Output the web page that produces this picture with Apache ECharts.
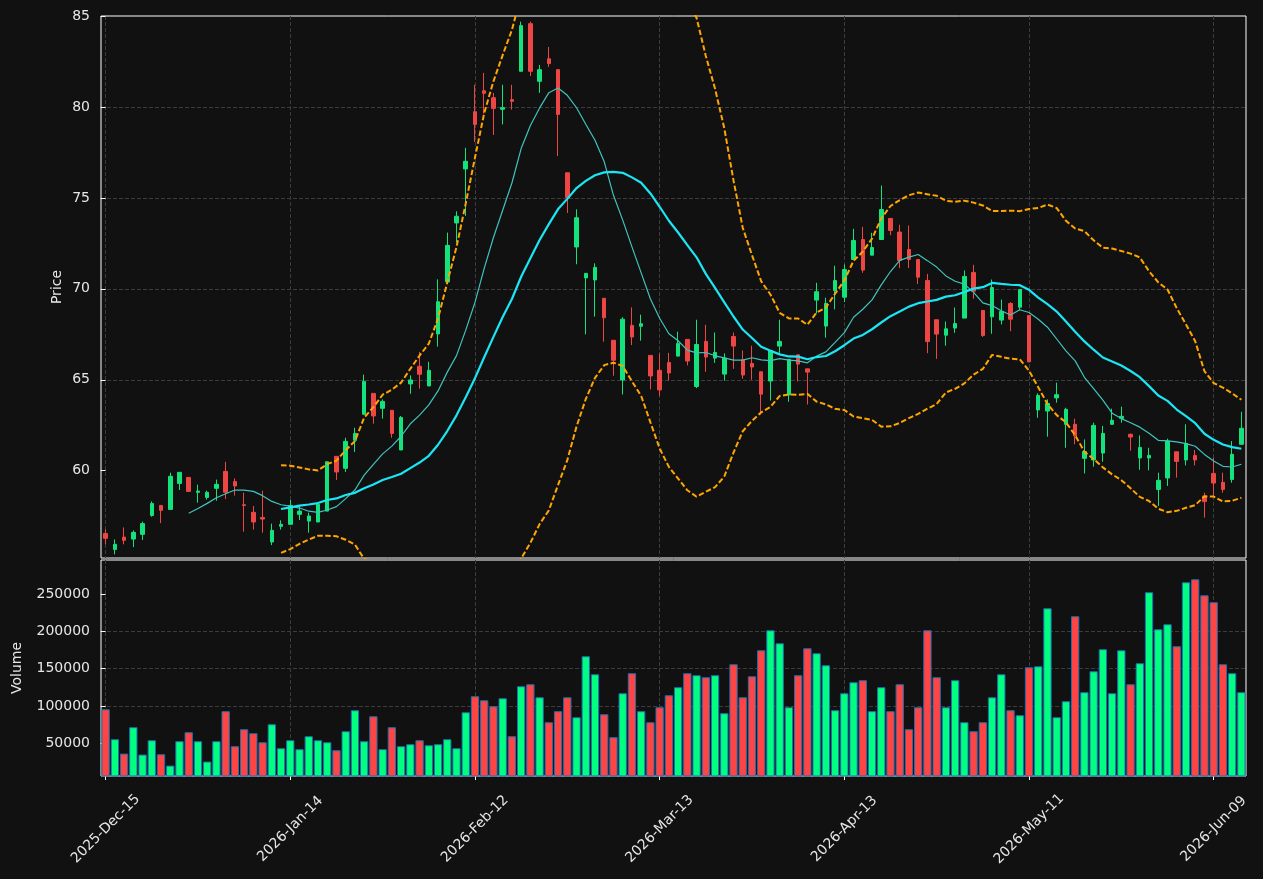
<!DOCTYPE html>
<html>
<head>
<meta charset="utf-8">
<title>Price / Volume</title>
<script src="https://cdn.jsdelivr.net/npm/echarts@6/dist/echarts.min.js"></script>
<style>
  html, body { margin: 0; padding: 0; background: #111111; }
  #chart { width: 1263px; height: 879px; }
</style>
</head>
<body>
<div id="chart"></div>
<script>
// trading days (NYSE calendar), one candle each
const tradingDays = [
  '2025-Dec-15','2025-Dec-16','2025-Dec-17','2025-Dec-18','2025-Dec-19','2025-Dec-22','2025-Dec-23','2025-Dec-24','2025-Dec-26','2025-Dec-29','2025-Dec-30','2025-Dec-31',
  '2026-Jan-02','2026-Jan-05','2026-Jan-06','2026-Jan-07','2026-Jan-08','2026-Jan-09','2026-Jan-12','2026-Jan-13','2026-Jan-14','2026-Jan-15','2026-Jan-16','2026-Jan-20','2026-Jan-21','2026-Jan-22','2026-Jan-23','2026-Jan-26','2026-Jan-27','2026-Jan-28','2026-Jan-29','2026-Jan-30',
  '2026-Feb-02','2026-Feb-03','2026-Feb-04','2026-Feb-05','2026-Feb-06','2026-Feb-09','2026-Feb-10','2026-Feb-11','2026-Feb-12','2026-Feb-13','2026-Feb-17','2026-Feb-18','2026-Feb-19','2026-Feb-20','2026-Feb-23','2026-Feb-24','2026-Feb-25','2026-Feb-26','2026-Feb-27',
  '2026-Mar-02','2026-Mar-03','2026-Mar-04','2026-Mar-05','2026-Mar-06','2026-Mar-09','2026-Mar-10','2026-Mar-11','2026-Mar-12','2026-Mar-13','2026-Mar-16','2026-Mar-17','2026-Mar-18','2026-Mar-19','2026-Mar-20','2026-Mar-23','2026-Mar-24','2026-Mar-25','2026-Mar-26','2026-Mar-27','2026-Mar-30','2026-Mar-31',
  '2026-Apr-01','2026-Apr-02','2026-Apr-06','2026-Apr-07','2026-Apr-08','2026-Apr-09','2026-Apr-10','2026-Apr-13','2026-Apr-14','2026-Apr-15','2026-Apr-16','2026-Apr-17','2026-Apr-20','2026-Apr-21','2026-Apr-22','2026-Apr-23','2026-Apr-24','2026-Apr-27','2026-Apr-28','2026-Apr-29','2026-Apr-30',
  '2026-May-01','2026-May-04','2026-May-05','2026-May-06','2026-May-07','2026-May-08','2026-May-11','2026-May-12','2026-May-13','2026-May-14','2026-May-15','2026-May-18','2026-May-19','2026-May-20','2026-May-21','2026-May-22','2026-May-26','2026-May-27','2026-May-28','2026-May-29',
  '2026-Jun-01','2026-Jun-02','2026-Jun-03','2026-Jun-04','2026-Jun-05','2026-Jun-08','2026-Jun-09','2026-Jun-10','2026-Jun-11','2026-Jun-12'
];

const opens = [
  56.55,55.67,56.35,56.24,56.50,57.54,58.09,57.87,59.30,59.63,58.81,58.53,59.03,59.96,59.40,58.13,57.71,57.43,56.08,56.94,
  57.05,57.60,57.23,57.18,57.78,60.79,60.13,61.67,63.10,64.25,63.43,63.32,61.14,64.77,65.74,64.66,67.52,70.38,73.62,76.59,
  79.74,80.89,80.51,79.87,80.40,81.96,84.58,81.41,82.65,82.05,76.38,72.30,70.60,70.49,69.48,67.17,64.99,67.99,67.94,66.34,
  65.52,65.95,66.30,67.22,64.63,67.11,66.19,65.31,67.38,66.10,65.90,65.44,64.93,66.85,64.16,66.37,65.60,69.38,67.95,69.91,
  69.54,71.61,72.71,71.85,72.71,73.87,73.12,72.16,71.61,70.46,68.30,67.45,67.84,68.39,70.90,68.81,68.46,68.28,69.19,68.99,
  68.54,63.34,63.28,64.00,62.55,62.55,60.68,60.59,60.97,62.55,62.88,62.00,60.70,60.70,58.97,59.60,61.04,60.59,60.84,58.61,
  59.85,59.36,59.52,61.45
];
const closes = [
  56.28,55.95,56.17,56.61,57.09,58.20,57.82,59.69,59.91,58.86,58.88,58.81,59.25,58.81,59.16,58.09,57.18,57.34,56.72,57.05,
  58.09,57.78,57.51,58.15,60.49,59.93,61.61,62.05,64.91,63.01,63.81,62.05,62.93,64.99,65.30,65.52,69.29,72.39,73.99,77.01,
  79.04,80.75,79.92,79.96,80.31,84.47,81.96,82.05,82.38,79.59,75.01,73.91,70.85,71.18,68.41,66.07,68.33,67.35,68.08,65.21,
  64.44,65.37,67.00,66.03,66.94,66.25,66.50,66.19,66.85,65.26,65.70,64.21,66.61,67.11,66.12,65.86,65.42,69.84,69.20,70.46,
  71.06,72.66,71.03,72.27,74.36,73.21,71.56,71.61,70.64,67.10,67.51,67.80,68.09,70.68,69.87,67.43,70.07,68.75,68.33,69.96,
  65.98,64.14,63.70,64.18,63.37,61.91,61.05,62.49,62.05,62.77,62.99,61.85,61.28,60.84,59.47,61.63,60.51,61.50,60.59,58.30,
  59.32,58.97,60.90,62.33
];
const lows = [
  55.95,55.40,55.95,55.80,56.19,57.47,57.12,57.87,58.94,58.86,58.24,58.41,58.35,58.44,58.63,56.65,56.76,56.59,55.91,56.76,
  57.05,57.29,56.59,57.18,57.78,59.49,59.93,61.03,63.10,62.58,62.86,61.81,61.14,64.23,64.51,64.66,66.82,70.38,72.54,74.01,
  78.07,79.63,78.46,79.04,79.85,81.96,81.70,80.77,82.20,77.30,74.17,71.35,67.50,68.47,67.09,65.22,64.19,66.91,67.15,64.47,
  64.11,64.96,66.30,65.79,64.54,65.44,65.93,64.95,65.60,65.05,65.00,63.09,63.86,66.48,63.79,64.91,63.64,68.65,67.31,68.87,
  69.27,71.61,70.88,71.85,72.71,72.95,71.14,71.14,70.27,66.46,66.15,66.87,67.58,68.39,69.45,67.36,67.53,68.04,67.67,68.83,
  65.98,62.91,61.87,63.74,61.26,61.45,59.85,60.22,60.49,62.55,62.64,61.10,60.05,60.02,58.06,59.16,59.62,60.29,60.29,57.42,
  58.61,58.79,59.34,61.45
];
const highs = [
  56.77,56.22,56.88,56.72,57.20,58.31,58.09,59.89,59.91,59.63,59.23,58.90,59.51,60.49,59.58,58.79,58.06,58.90,57.09,57.27,
  58.39,58.09,57.69,58.24,60.49,60.79,61.81,62.36,65.28,64.25,63.92,63.32,63.01,65.24,66.53,65.99,70.52,73.09,74.26,77.75,
  81.22,81.87,80.77,81.22,81.22,84.69,84.69,82.31,83.30,82.05,76.38,74.37,70.85,71.40,69.48,67.17,68.44,68.98,68.58,66.34,
  66.45,66.48,67.64,67.22,68.30,68.02,67.60,66.45,67.60,66.61,66.87,65.44,66.61,68.30,66.12,66.37,65.60,70.33,69.51,71.27,
  71.34,73.30,73.41,73.08,75.68,73.87,73.52,73.48,71.61,70.82,68.30,68.20,68.97,71.01,71.32,68.81,70.51,69.41,69.27,69.96,
  68.54,64.25,63.92,64.84,63.46,62.86,61.72,62.64,62.46,63.41,63.52,62.05,61.94,61.26,59.89,61.76,61.04,62.55,61.14,58.79,
  60.71,59.89,61.63,63.24
];
const volumes = [
  95600,55400,36100,71500,34800,54000,35200,20000,52700,64800,52700,25400,52700,93000,46000,68800,63400,51300,75500,43300,
  54000,42000,59400,54000,51300,40600,66100,94300,52700,86200,42000,71500,46000,48700,54000,47300,48700,55400,43300,91600,
  113100,107700,99700,110400,59400,126500,129200,111700,78200,93000,111700,84900,166800,142600,88900,58100,117100,144000,93000,78200,
  98300,114400,125200,144000,141300,138600,141300,90300,156000,111700,139900,174800,201700,184200,98300,141300,177500,170800,154700,94300,
  117100,131900,134600,93000,125200,93000,129200,68800,98300,201700,138600,98300,134600,78200,66100,78200,111700,142600,94300,87600,
  152000,153300,231200,84900,106400,220500,118500,146600,176200,117100,174800,129200,157400,252700,203000,209700,180200,266100,270100,248600,
  239300,156000,144000,118500
];

const priceTicks = [60, 65, 70, 75, 80, 85];
const volumeTicks = [50000, 100000, 150000, 200000, 250000];

const UP = '#14e27c';
const DOWN = '#ee4545';
const VOL_UP = '#00ff80';
const VOL_DOWN = '#ff4444';
const GRID_LINE = { color: '#3c3c3c', type: [4, 2], width: 1 };
const TEXT = '#e6e6e6';

// rolling mean / bollinger from the closes
const rolling = (n, fn) =>
  closes.map((_, i) => (i < n - 1 ? '-' : fn(closes.slice(i - n + 1, i + 1))));
const mean = (arr) => arr.reduce((s, v) => s + v, 0) / arr.length;
const std = (arr) => {
  const m = mean(arr);
  return Math.sqrt(arr.reduce((s, v) => s + (v - m) * (v - m), 0) / arr.length);
};
const ma10 = rolling(10, mean);
const ma20 = rolling(20, mean);
const bbUpper = rolling(20, (w) => mean(w) + 2 * std(w));
const bbLower = rolling(20, (w) => mean(w) - 2 * std(w));

const candles = opens.map((o, i) => [o, closes[i], lows[i], highs[i]]);
const volumeBars = volumes.map((v, i) => ({
  value: v,
  itemStyle: { color: closes[i] >= opens[i] ? VOL_UP : VOL_DOWN }
}));

const everyTwenty = (idx) => idx % 20 === 0;

// hidden value axis that only draws the vertical dashed lines at bar centres
const gridXAxis = (gridIndex) => ({
  type: 'value',
  gridIndex,
  min: -0.5,
  max: tradingDays.length - 0.5,
  splitNumber: 6,
  axisLine: { show: false },
  axisTick: { show: false },
  axisLabel: { show: false },
  splitLine: { show: true, showMinLine: false, showMaxLine: false, lineStyle: GRID_LINE }
});

const lineSeries = (name, data, color, width, dashed) => ({
  name,
  type: 'line',
  xAxisIndex: 0,
  yAxisIndex: 0,
  data,
  showSymbol: false,
  symbol: 'none',
  clip: true,
  lineStyle: { color, width, type: dashed ? [5.5, 2.5] : 'solid' },
  z: 3
});

const chart = echarts.init(document.getElementById('chart'));
chart.setOption({
  backgroundColor: '#111111',
  animation: false,
  textStyle: { fontFamily: 'DejaVu Sans' },
  grid: [
    { left: 101, right: 17, top: 16, height: 542, show: true, borderColor: '#ffffff', borderWidth: 1, backgroundColor: '#111111' },
    { left: 101, right: 17, top: 560, height: 216, show: true, borderColor: '#ffffff', borderWidth: 1, backgroundColor: '#111111' }
  ],
  xAxis: [
    {
      type: 'category', gridIndex: 0, data: tradingDays, boundaryGap: true,
      axisLine: { show: false }, axisTick: { show: false }, axisLabel: { show: false }, splitLine: { show: false }
    },
    gridXAxis(0),
    {
      type: 'category', gridIndex: 1, data: tradingDays, boundaryGap: true,
      axisLine: { show: false },
      axisTick: { show: true, alignWithLabel: true, interval: everyTwenty, length: 4, lineStyle: { color: '#ffffff' } },
      axisLabel: {
        interval: everyTwenty, rotate: 45, align: 'center', verticalAlign: 'middle', margin: 53,
        color: TEXT, fontSize: 14, fontFamily: 'DejaVu Sans'
      },
      splitLine: { show: false }
    },
    gridXAxis(1)
  ],
  yAxis: [
    {
      type: 'value', gridIndex: 0, min: 55.2, max: 85, splitNumber: 6,
      name: 'Price', nameLocation: 'middle', nameGap: 37, nameRotate: 90, nameMoveOverlap: false,
      nameTextStyle: { color: TEXT, fontSize: 14, fontFamily: 'DejaVu Sans' },
      axisLine: { show: false },
      axisTick: { show: true, length: 5, customValues: priceTicks, lineStyle: { color: '#ffffff' } },
      axisLabel: {
        customValues: priceTicks, showMinLabel: true, showMaxLabel: true, margin: 11,
        color: TEXT, fontSize: 14, fontFamily: 'DejaVu Sans', formatter: (v) => String(v)
      },
      splitLine: { show: true, showMinLine: false, showMaxLine: false, lineStyle: GRID_LINE }
    },
    {
      type: 'value', gridIndex: 1, min: 6000, max: 296000, splitNumber: 6,
      name: 'Volume', nameLocation: 'middle', nameGap: 77, nameRotate: 90, nameMoveOverlap: false,
      nameTextStyle: { color: TEXT, fontSize: 14, fontFamily: 'DejaVu Sans' },
      axisLine: { show: false },
      axisTick: { show: true, length: 5, customValues: volumeTicks, lineStyle: { color: '#ffffff' } },
      axisLabel: {
        customValues: volumeTicks, showMinLabel: true, showMaxLabel: true, margin: 11,
        color: TEXT, fontSize: 14, fontFamily: 'DejaVu Sans', formatter: (v) => String(v)
      },
      splitLine: { show: true, showMinLine: false, showMaxLine: false, lineStyle: GRID_LINE }
    }
  ],
  series: [
    {
      name: 'Candles',
      type: 'candlestick',
      xAxisIndex: 0,
      yAxisIndex: 0,
      data: candles,
      barWidth: 4,
      clip: true,
      itemStyle: { color: UP, color0: DOWN, borderColor: UP, borderColor0: DOWN, borderWidth: 1 },
      z: 2
    },
    lineSeries('MA10', ma10, '#3fc4bd', 1.2, false),
    lineSeries('MA20', ma20, '#1ae6f5', 2.2, false),
    lineSeries('BB Upper', bbUpper, '#ffa500', 2, true),
    lineSeries('BB Lower', bbLower, '#ffa500', 2, true),
    {
      name: 'Volume',
      type: 'bar',
      xAxisIndex: 2,
      yAxisIndex: 1,
      data: volumeBars,
      barWidth: '90%',
      clip: true,
      itemStyle: { borderColor: '#1f6fb0', borderWidth: 1 }
    }
  ]
});
</script>
</body>
</html>
